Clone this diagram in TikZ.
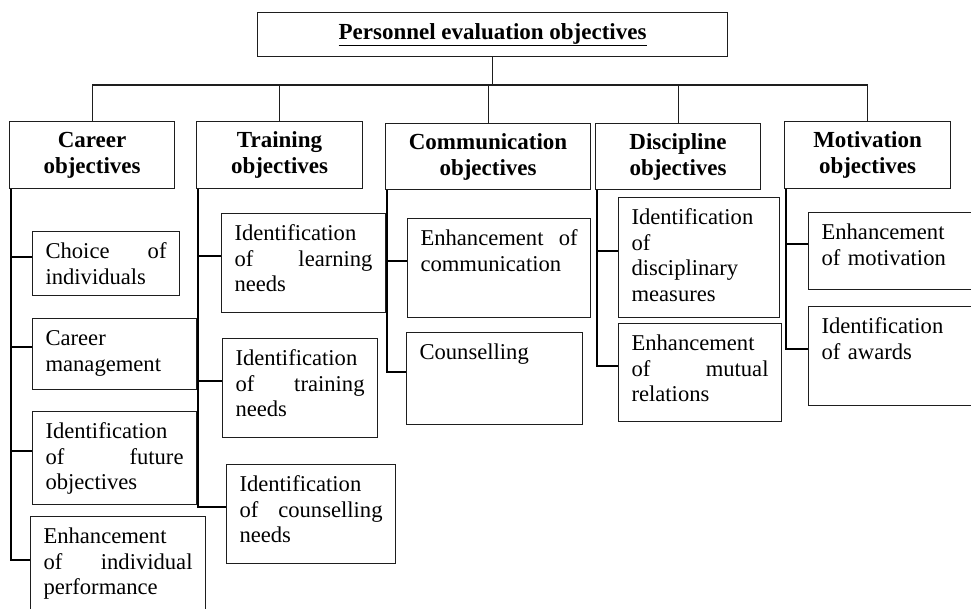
\documentclass[tikz,border=0pt]{standalone}
\usepackage{fontspec}
\setmainfont{Liberation Serif}
\usepackage{xcolor}
\usetikzlibrary{calc}
\definecolor{boxline}{RGB}{30,30,30}

\begin{document}
\begin{tikzpicture}[x=1pt,y=-1pt,
  head/.style={draw=boxline, line width=1.1pt, anchor=north west, align=center, inner sep=0pt,
    font=\fontsize{23}{26}\selectfont\bfseries},
  leaf/.style={draw=boxline, line width=1.1pt, anchor=north west, align=left, inner xsep=13pt,
    inner ysep=0pt, text height=27pt, font=\fontsize{22.6}{25.5}\selectfont},
  link/.style={boxline, line width=1.1pt},
  spine/.style={black, line width=2pt}]
\useasboundingbox (0,0) rectangle (971,609);

\node[head, minimum width=470pt, minimum height=44pt] (top) at (257,12) {\underline{Personnel evaluation objectives}};

\node[head, minimum width=165pt, minimum height=67pt] (car) at (9,121) {Career\\objectives};
\node[head, minimum width=166pt, minimum height=67pt] (tra) at (196,121) {Training\\objectives};
\node[head, minimum width=205pt, minimum height=66pt] (com) at (385,123) {Communication\\objectives};
\node[head, minimum width=165pt, minimum height=66pt] (dis) at (595,123) {Discipline\\objectives};
\node[head, minimum width=166pt, minimum height=67pt] (mot) at (784,121) {Motivation\\objectives};

\coordinate (bar) at (491,85);
\draw[link] (top.south) -- (top.south |- bar);
\draw[link] (car.north |- bar) -- (mot.north |- bar);
\foreach \h in {car,tra,com,dis,mot}
  \draw[link] (\h.north |- bar) -- (\h.north);

\node[leaf, text width=121pt, text depth=37pt] (c1) at (32,231) {Choice \hfill of\\individuals};
\node[leaf, text width=138pt, text depth=44pt] (c2) at (32,318) {Career\\management};
\node[leaf, text width=138pt, text depth=66pt] (c3) at (32,411) {Identification\\of \hfill future\\objectives};
\node[leaf, text width=149pt, text depth=73pt] (c4) at (30,516) {Enhancement\\of \hfill individual\\performance};

\node[leaf, text width=138pt, text depth=72pt] (t1) at (221,213) {Identification\\of \hfill learning\\needs};
\node[leaf, text width=129pt, text depth=72pt] (t2) at (222,338) {Identification\\of \hfill training\\needs};
\node[leaf, text width=143pt, text depth=72pt] (t3) at (226,464) {Identification\\of \hfill counselling\\needs};

\node[leaf, text width=157pt, text depth=72pt] (m1) at (407,218) {Enhancement \hfill of\\communication};
\node[leaf, text width=150pt, text depth=65pt] (m2) at (406,332) {Counselling};

\node[leaf, text width=135pt, text depth=93pt] (d1) at (618,197) {Identification\\of\\disciplinary\\measures};
\node[leaf, text width=137pt, text depth=71pt] (d2) at (618,323) {Enhancement\\of \hfill mutual\\relations};

\node[leaf, text width=144pt, text depth=50pt] (v1) at (808,212) {Enhancement\\of motivation};
\node[leaf, text width=144pt, text depth=72pt] (v2) at (808,306) {Identification\\of awards};

\foreach \h/\c in {car/c1,car/c2,car/c3,car/c4,tra/t1,tra/t2,tra/t3,com/m1,com/m2,dis/d1,dis/d2,mot/v1,mot/v2}
  \draw[spine] ([xshift=2pt]\h.south west) |- ([yshift=7pt]\c.west);
\end{tikzpicture}
\end{document}
